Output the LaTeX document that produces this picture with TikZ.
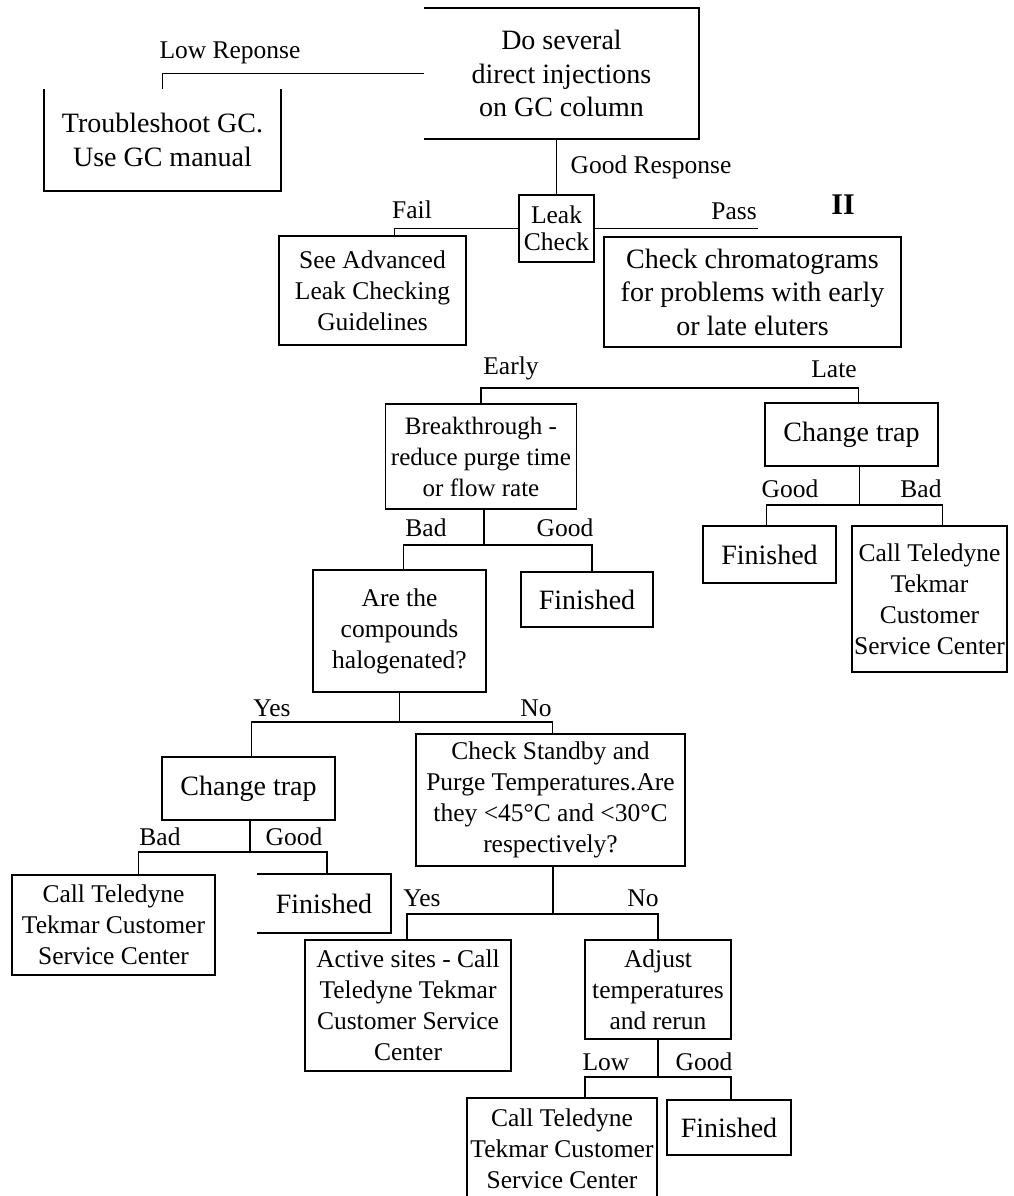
\documentclass[tikz,border=0pt]{standalone}
\usepackage{fontspec}
\setmainfont{Liberation Serif}
\newcommand{\bigtxt}{\fontsize{28}{33.5}\selectfont}
\newcommand{\midtxt}{\fontsize{25.5}{31}\selectfont}

\begin{document}
\begin{tikzpicture}[x=1pt, y=-1pt, line width=1.8pt]
  \tikzstyle{box}=[draw, align=center, inner sep=2pt, font=\midtxt]
  \tikzstyle{bigbox}=[box, font=\bigtxt]
  \tikzstyle{openbox}=[align=center, inner sep=2pt, font=\bigtxt]
  \tikzstyle{lbl}=[inner sep=0pt, font=\fontsize{25.5}{30}\selectfont]

  \useasboundingbox[fill=white] (0,0) rectangle (1013,1196);

  % Top: injections, GC trouble, leak check
  \node[openbox, minimum width=273pt, minimum height=129pt] (inj) at (561.5,73.5) {Do several\\direct injections\\on GC column};
  \node[openbox, minimum width=235pt, minimum height=100pt] (gc) at (162.5,140) {Troubleshoot GC.\\Use GC manual};
  \node[box, font=\fontsize{25.5}{27.5}\selectfont, minimum width=75pt, minimum height=67pt] (leak) at (556.5,228.5) {Leak\\Check};
  \node[box, minimum width=187pt, minimum height=109pt] (adv) at (372.5,290.5) {See Advanced\\Leak Checking\\Guidelines};
  \node[bigbox, minimum width=297pt, minimum height=110pt] (chrom) at (752.5,292) {Check chromatograms\\for problems with early\\or late eluters};
  \node[lbl, font=\bfseries\fontsize{30}{30}\selectfont] (two) at (843,205) {II};

  % Late branch
  \node[bigbox, minimum width=173pt, minimum height=63pt] (trapL) at (851.5,434.5) {Change trap};
  \node[bigbox, minimum width=133pt, minimum height=57pt] (finR) at (769.5,554.5) {Finished};
  \node[box, minimum width=155pt, minimum height=146pt] (callR) at (929.5,599) {Call Teledyne\\Tekmar\\Customer\\Service Center};

  % Early branch
  \node[box, font=\fontsize{25}{31}\selectfont, minimum width=191pt, minimum height=105pt] (brk) at (481,456.5) {Breakthrough -\\reduce purge time\\or flow rate};
  \node[bigbox, minimum width=132pt, minimum height=55pt] (fin1) at (587,599.5) {Finished};
  \node[box, minimum width=173pt, minimum height=122pt] (are) at (399.5,631) {Are the\\compounds\\halogenated?};

  % Halogenated: yes
  \node[bigbox, minimum width=173pt, minimum height=63pt] (trapY) at (248.5,788.5) {Change trap};
  \node[box, minimum width=203pt, minimum height=100pt] (callY) at (113.5,925) {Call Teledyne\\Tekmar Customer\\Service Center};
  \node[openbox, minimum width=132pt, minimum height=57pt] (finY) at (324,903.5) {Finished};

  % Halogenated: no
  \node[box, minimum width=269pt, minimum height=132pt] (stby) at (550.5,800) {Check Standby and\\Purge Temperatures.Are\\they <45°C and <30°C\\respectively?};
  \node[box, minimum width=206pt, minimum height=131pt] (act) at (408,1005.5) {Active sites - Call\\Teledyne Tekmar\\Customer Service\\Center};
  \node[box, minimum width=146pt, minimum height=99pt] (adj) at (658,989.5) {Adjust\\temperatures\\and rerun};
  \node[box, minimum width=190pt, minimum height=102pt] (callL) at (562,1149) {Call Teledyne\\Tekmar Customer\\Service Center};
  \node[bigbox, minimum width=124pt, minimum height=55pt] (finL) at (729,1127.5) {Finished};

  % open boxes
  \draw (inj.north west) -- (inj.north east) -- (inj.south east) -- (inj.south west);
  \draw (gc.north west) -- (gc.south west) -- (gc.south east) -- (gc.north east);
  \draw (finY.north west) -- (finY.north east) -- (finY.south east) -- (finY.south west);

  % branch labels
  \node[lbl] (lowresp) at (230,53) {Low Reponse};
  \node[lbl] (goodresp) at (651,167) {Good Response};
  \node[lbl] (fail) at (412,210) {Fail};
  \node[lbl] (pass) at (734,211) {Pass};
  \node[lbl] (early) at (511,368) {Early};
  \node[lbl] (late) at (834,369) {Late};
  \node[lbl] (bad1) at (426,528) {Bad};
  \node[lbl] (good1) at (565,528) {Good};
  \node[lbl] (good2) at (790,489) {Good};
  \node[lbl] (bad2) at (921,489) {Bad};
  \node[lbl] (yes1) at (272,708) {Yes};
  \node[lbl] (no1) at (536,708) {No};
  \node[lbl] (bad3) at (160,837) {Bad};
  \node[lbl] (good3) at (294,837) {Good};
  \node[lbl] (yes2) at (422,898) {Yes};
  \node[lbl] (no2) at (643,898) {No};
  \node[lbl] (low) at (606,1062) {Low};
  \node[lbl] (good4) at (704,1062) {Good};

  % fork points
  \coordinate (passend) at (758,226);
  \coordinate (elbar) at (670,388);
  \coordinate (f2) at ([xshift=8pt,yshift=-38pt]trapL.south);
  \coordinate (f3) at ([xshift=3pt,yshift=-35pt]brk.south);
  \coordinate (f4) at ([yshift=-29pt]are.south);
  \coordinate (f5) at ([xshift=1.5pt,yshift=-31pt]trapY.south);
  \coordinate (f6) at ([xshift=2.5pt,yshift=-47pt]stby.south);
  \coordinate (f7) at ([yshift=-37pt]adj.south);

  \draw (inj.west) -| (gc.north);
  \draw (inj.south -| leak.north) -- (leak.north);
  \draw (leak.west) -| ([xshift=22pt]adv.north);
  \draw (leak.east) -- (leak.east -| passend);

  \draw (brk.north) |- (elbar) -| ([xshift=7pt]trapL.north);

  \draw ([xshift=8pt]trapL.south) -- (f2);
  \draw ([xshift=-3pt]finR.north) |- (f2) -| ([xshift=13pt]callR.north);

  \draw ([xshift=3pt]brk.south) -- (f3);
  \draw ([xshift=4pt]are.north) |- (f3) -| ([xshift=5pt]fin1.north);

  \draw (are.south) -- (f4);
  \draw ([xshift=3pt]trapY.north) |- (f4) -| ([xshift=2pt]stby.north);

  \draw ([xshift=1.5pt]trapY.south) -- (f5);
  \draw ([xshift=25pt]callY.north) |- (f5) -| ([xshift=3pt]finY.north);

  \draw ([xshift=2.5pt]stby.south) -- (f6);
  \draw ([xshift=-1pt]act.north) |- (f6) -| (adj.north);

  \draw (adj.south) -- (f7);
  \draw ([xshift=23pt]callL.north) |- (f7) -| ([xshift=2pt]finL.north);
\end{tikzpicture}
\end{document}
